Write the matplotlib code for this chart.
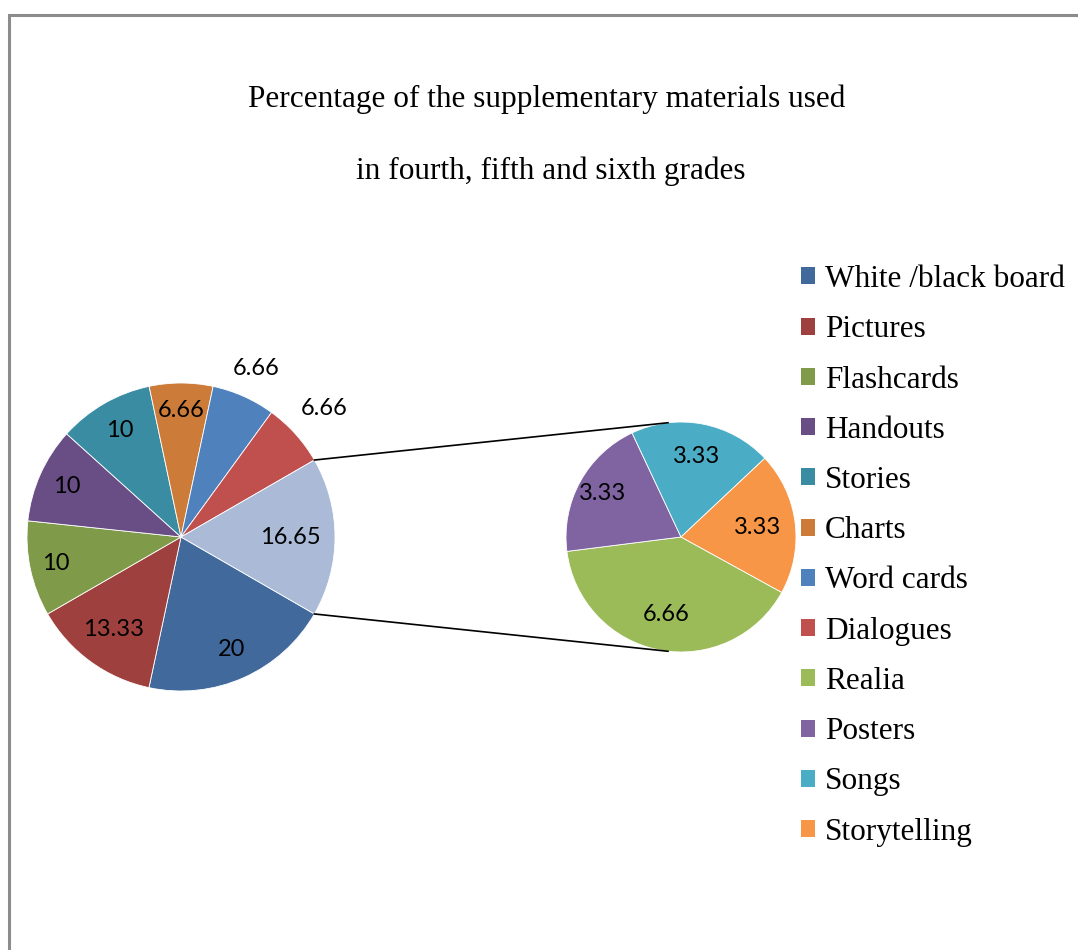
import matplotlib
matplotlib.use("Agg")
import numpy as np
import matplotlib.pyplot as plt
from matplotlib.patches import Patch

# main pie categories (clockwise from the "other" slice)
main_labels = ["White /black board", "Pictures", "Flashcards", "Handouts",
               "Stories", "Charts", "Word cards", "Dialogues"]
main_values = [20, 13.33, 10, 10, 10, 6.66, 6.66, 6.66]
main_colors = ["#41699C", "#9E413E", "#7F9A48", "#694E85",
               "#3A8CA3", "#CC7B38", "#4F81BD", "#C0504D"]

# categories split out into the secondary pie
sub_labels = ["Realia", "Posters", "Songs", "Storytelling"]
sub_values = [6.66, 3.33, 3.33, 3.33]
sub_colors = ["#9BBB59", "#8064A2", "#4BACC6", "#F79646"]
other_color = "#AABAD7"
other_value = round(sum(sub_values), 2)

# label distance (fraction of radius) for each slice
main_label_r = [0.80, 0.74, 0.83, 0.81, 0.80, 0.82, 1.20, 1.25, 0.71]
sub_label_r = [0.69, 0.78, 0.71, 0.67]

W, H = 1078, 950
fig = plt.figure(figsize=(W / 100, H / 100), dpi=100)
ax = fig.add_axes([0, 0, 1, 1])
ax.set_xlim(0, W)
ax.set_ylim(0, H)
ax.set_aspect("equal")
ax.axis("off")

# outer frame (only top and left edges fall inside the canvas)
ax.plot([8.5, 8.5, W + 5], [-5, H - 14.5, H - 14.5], color="#8C8C8C", lw=2.2,
        solid_joinstyle="miter")

c1, r1 = (181, H - 537), 154
c2, r2 = (681, H - 537), 115

vals1 = main_values + [other_value]
cols1 = main_colors + [other_color]
half = other_value / sum(vals1) * 360 / 2
w1, _ = ax.pie(vals1, colors=cols1, center=c1, radius=r1, startangle=-half,
               counterclock=False, wedgeprops=dict(linewidth=0.6, edgecolor="white"))
w2, _ = ax.pie(sub_values, colors=sub_colors, center=c2, radius=r2, startangle=-28.8,
               counterclock=False, wedgeprops=dict(linewidth=0.6, edgecolor="white"))
ax.set_xlim(0, W)
ax.set_ylim(0, H)

label_font = dict(family=["Lato", "DejaVu Sans"], fontsize=17, color="black")


def put_labels(wedges, values, dists, center, radius):
    for w, v, d in zip(wedges, values, dists):
        ang = np.deg2rad((w.theta1 + w.theta2) / 2)
        x = center[0] + d * radius * np.cos(ang)
        y = center[1] + d * radius * np.sin(ang)
        txt = f"{v:g}"
        ax.text(x, y, txt, ha="center", va="center", **label_font)


put_labels(w1, vals1, main_label_r, c1, r1)
put_labels(w2, sub_values, sub_label_r, c2, r2)

# connector lines between the "other" slice and the secondary pie
other = w1[-1]
for edge_ang, tgt_ang in [(other.theta1, -96.5), (other.theta2, 96.5)]:
    a = np.deg2rad(edge_ang)
    b = np.deg2rad(tgt_ang)
    ax.plot([c1[0] + r1 * np.cos(a), c2[0] + r2 * np.cos(b)],
            [c1[1] + r1 * np.sin(a), c2[1] + r2 * np.sin(b)],
            color="black", lw=1.2)

# title in two lines
title_font = dict(family=["Liberation Serif", "DejaVu Serif"], fontsize=22.5,
                  ha="center", va="center")
ax.text(547, H - 99, "Percentage of the supplementary materials used", **title_font)
ax.text(551, H - 171, "in fourth, fifth and sixth grades", **title_font)

handles = [Patch(facecolor=c) for c in main_colors + sub_colors]
leg = ax.legend(handles, main_labels + sub_labels, loc="upper left",
                bbox_to_anchor=(801 / W, 1 - 265 / H), bbox_transform=fig.transFigure,
                frameon=False, prop=dict(family="Liberation Serif", size=22.5),
                handlelength=0.45, handleheight=0.45, handletextpad=0.32,
                labelspacing=0.68, borderpad=0, borderaxespad=0)

fig.savefig("out.png", dpi=100)
